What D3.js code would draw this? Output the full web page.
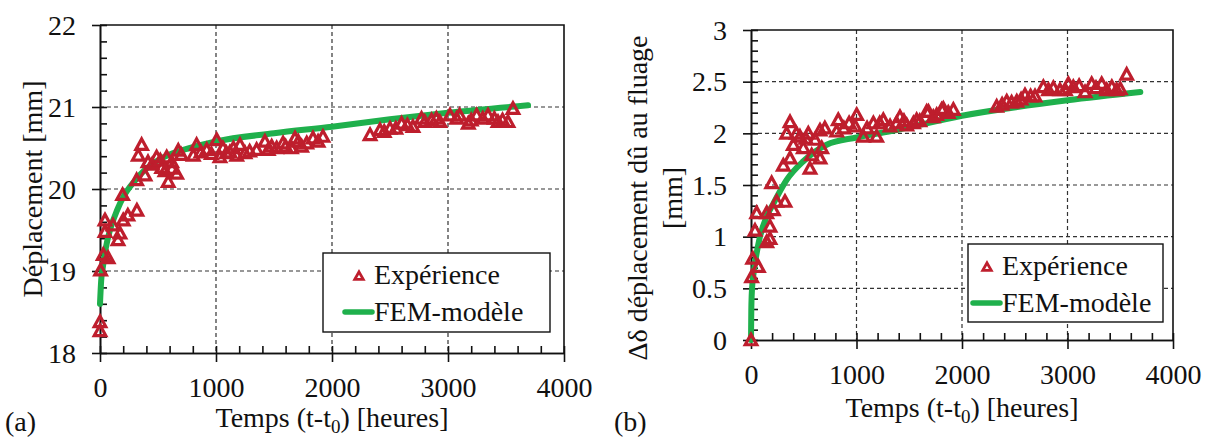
<!DOCTYPE html>
<html><head><meta charset="utf-8">
<script src="https://cdn.jsdelivr.net/npm/d3@7"></script>
<style>
body{margin:0;background:#fff}
svg{display:block}
text{font-family:"Liberation Serif","Times New Roman",serif;fill:#111}
</style>
</head><body>
<svg id="c" width="1209" height="440"></svg>
<script>
// ---------- data ----------
const xTickValues = [0, 1000, 2000, 3000, 4000];
const yTickValuesA = [18, 19, 20, 21, 22];
const yTickValuesB = [0, 0.5, 1, 1.5, 2, 2.5, 3];
const legendLabels = ["Expérience", "FEM-modèle"];

// (a) experiment: time [h], displacement [mm]
const expTimeA = [0,0,5,28,70,43,43,112,155,172,200,240,318,195,316,388,359,330,414,488,532,588,661,675,575,618,450,520,560,620,700,
  833,804,870,920,960,1006,1034,1060,1090,1120,1150,1207,1178,1250,1290,1350,1422,1450,1480,1523,1578,1600,1650,1681,1710,1738,1782,1836,1880,1922,
  2328,2414,2450,2500,2550,2600,2650,2698,2772,2800,2858,2900,2930,3017,3075,3100,3175,3200,3247,3300,3345,3400,3431,3470,3517,3560];
const expDispA = [18.38,18.27,19.01,19.2,19.16,19.48,19.62,19.56,19.38,19.46,19.62,19.68,19.74,19.93,20.11,20.17,20.54,20.41,20.33,20.39,20.26,20.09,20.19,20.47,20.39,20.33,20.30,20.35,20.22,20.25,20.42,
  20.54,20.41,20.45,20.48,20.43,20.60,20.39,20.50,20.44,20.45,20.50,20.54,20.41,20.44,20.46,20.48,20.58,20.48,20.52,20.50,20.56,20.52,20.50,20.62,20.58,20.52,20.56,20.62,20.58,20.64,
  20.66,20.72,20.70,20.74,20.74,20.80,20.78,20.76,20.86,20.82,20.84,20.86,20.82,20.90,20.86,20.90,20.80,20.84,20.90,20.86,20.90,20.86,20.82,20.84,20.82,20.98];
// (a) model
const modelTimeA = [0,10,25,50,86,150,200,300,400,500,600,776,1000,1500,2000,2500,3000,3690];
const modelDispA = [18.6,18.88,19.05,19.28,19.5,19.75,19.9,20.1,20.25,20.35,20.42,20.5,20.58,20.68,20.76,20.85,20.93,21.02];

// (b) experiment: time [h], creep displacement [mm]
const expTimeB = [0,6,16,70,38,54,149,180,180,149,212,243,322,196,306,370,559,370,338,401,464,496,543,575,654,670,654,607,430,520,700,
  827,812,880,930,1002,986,1065,1100,1160,1191,1220,1254,1318,1380,1412,1450,1476,1540,1570,1600,1665,1682,1728,1760,1807,1823,1870,1918,
  2329,2380,2424,2470,2519,2560,2597,2650,2692,2771,2820,2866,2929,2980,3008,3055,3110,3166,3229,3270,3324,3372,3420,3466,3500,3561];
const expDeltaB = [0.0,0.61,0.79,0.71,1.06,1.23,0.95,0.98,1.10,1.23,1.26,1.34,1.34,1.52,1.69,1.76,1.66,2.11,2.00,1.89,1.97,1.86,2.00,1.79,2.03,1.86,1.76,1.94,2.00,1.95,2.05,
  2.13,2.02,2.05,2.10,2.18,2.07,1.97,2.05,2.10,1.97,2.10,2.13,2.07,2.10,2.16,2.12,2.08,2.10,2.13,2.12,2.21,2.21,2.16,2.18,2.23,2.24,2.20,2.23,
  2.26,2.28,2.31,2.30,2.31,2.33,2.37,2.36,2.36,2.45,2.42,2.44,2.42,2.42,2.48,2.45,2.46,2.40,2.48,2.44,2.48,2.42,2.45,2.42,2.43,2.57];
// (b) model
const modelTimeB = [0,3,10,25,50,85,150,212,338,496,717,1000,1318,2000,3000,3690];
const modelDeltaB = [0,0.3,0.5,0.65,0.82,1.0,1.2,1.32,1.55,1.73,1.89,1.96,2.02,2.17,2.32,2.40];

// ---------- drawing ----------
const RED = "#be1e2d", GREEN = "#1fb04c", INK = "#111";
const svg = d3.select("#c");
const tri = (w, h) => `M0,${-h*0.55}L${w/2},${h*0.45}L${-w/2},${h*0.45}Z`;

function panel(o) {
  const g = svg.append("g");
  const x = d3.scaleLinear().domain([0, 4000]).range([o.x0, o.x1]);
  const y = d3.scaleLinear().domain(o.yDomain).range([o.y1, o.y0]);

  // grid
  g.append("g").selectAll("line").data(xTickValues.slice(1, -1)).join("line")
    .attr("x1", d => x(d)).attr("x2", d => x(d)).attr("y1", o.y0).attr("y2", o.y1)
    .attr("stroke", "#333").attr("stroke-width", 1.2).attr("stroke-dasharray", "4,3");
  g.append("g").selectAll("line").data(o.yTicks.slice(1, -1)).join("line")
    .attr("y1", d => y(d)).attr("y2", d => y(d)).attr("x1", o.x0).attr("x2", o.x1)
    .attr("stroke", "#333").attr("stroke-width", 1.2).attr("stroke-dasharray", "4,3");

  // frame top/right
  g.append("path").attr("d", `M${o.x0},${o.y0}H${o.x1}V${o.y1}`)
    .attr("fill", "none").attr("stroke", INK).attr("stroke-width", 1.6);

  // x axis
  const minorX = d3.range(0, 4001, 200);
  const xIn = g.append("g").attr("transform", `translate(0,${o.y1})`)
    .call(d3.axisBottom(x).tickValues(minorX).tickSize(-7).tickSizeOuter(0).tickFormat(""));
  const xOut = g.append("g").attr("transform", `translate(0,${o.y1})`)
    .call(d3.axisBottom(x).tickValues(xTickValues).tickSize(9).tickSizeOuter(0).tickFormat(d3.format("d")));
  xOut.selectAll("text").attr("y", 44).attr("dy", null).style("font-size", "28px").attr("fill", INK);
  // y axis
  const yIn = g.append("g").attr("transform", `translate(${o.x0},0)`)
    .call(d3.axisLeft(y).tickValues(o.yMinor).tickSize(-7).tickSizeOuter(0).tickFormat(""));
  const yOut = g.append("g").attr("transform", `translate(${o.x0},0)`)
    .call(d3.axisLeft(y).tickValues(o.yTicks).tickSize(8).tickSizeOuter(0).tickFormat(o.yFormat));
  yOut.selectAll("text").attr("x", -24).attr("dy", "0.33em").style("font-size", "28px").attr("fill", INK);
  [xIn, xOut, yIn, yOut].forEach(a => {
    a.selectAll("path,line").attr("stroke", INK).attr("stroke-width", 1.6);
    a.attr("font-family", null);
  });

  // model curve
  const line = d3.line().x(d => x(d[0])).y(d => y(d[1])).curve(d3.curveMonotoneX);
  g.append("path").datum(o.mt.map((t, i) => [t, o.mv[i]])).attr("d", line)
    .attr("fill", "none").attr("stroke", GREEN).attr("stroke-width", 6).attr("stroke-linecap", "round");

  // experiment points
  g.append("g").selectAll("path").data(o.et.map((t, i) => [t, o.ev[i]])).join("path")
    .attr("transform", d => `translate(${x(d[0])},${y(d[1])})`)
    .attr("d", tri(11.5, 10.5)).attr("fill", "none").attr("stroke", RED).attr("stroke-width", 3.2)
    .attr("stroke-linejoin", "miter");

  // legend
  const L = o.legend;
  g.append("rect").attr("x", L.x).attr("y", L.y).attr("width", L.w).attr("height", L.h)
    .attr("fill", "#fff").attr("stroke", INK).attr("stroke-width", 1.4);
  g.append("path").attr("transform", `translate(${L.x + L.mx},${L.y + 23})`).attr("d", tri(8.5, 7.5))
    .attr("fill", "none").attr("stroke", RED).attr("stroke-width", 2.8);
  g.append("line").attr("x1", L.x + L.mx - 14).attr("x2", L.x + L.mx + 13)
    .attr("y1", L.y + 59).attr("y2", L.y + 59)
    .attr("stroke", GREEN).attr("stroke-width", 5.5).attr("stroke-linecap", "round");
  g.selectAll("text.leg").data(legendLabels).join("text").attr("class", "leg")
    .attr("x", L.x + L.tx).attr("y", (d, i) => L.y + 31 + i * 37)
    .style("font-size", "28px").text(d => d);

  // x title
  const xt = g.append("text").attr("x", (o.x0 + o.x1) / 2).attr("y", o.xTitleY)
    .attr("text-anchor", "middle").style("font-size", "28px");
  xt.append("tspan").text("Temps (t-t");
  xt.append("tspan").text("0").style("font-size", "19px").attr("dy", 6);
  xt.append("tspan").text(") [heures]").attr("dy", -6);

  // panel tag
  g.append("text").attr("x", o.tagX).attr("y", 431).style("font-size", "28px").text(o.tag);
  return { x, y };
}

panel({
  x0: 100, x1: 564, y0: 25, y1: 353, yDomain: [18, 22],
  yTicks: yTickValuesA, yMinor: d3.range(18, 22.001, 0.2), yFormat: d3.format("d"),
  et: expTimeA, ev: expDispA, mt: modelTimeA, mv: modelDispA,
  legend: { x: 323, y: 253, w: 227, h: 79, mx: 36, tx: 51 },
  xTitleY: 427, tag: "(a)", tagX: 5
});
svg.append("text").attr("transform", "translate(42,189) rotate(-90)")
  .attr("text-anchor", "middle").style("font-size", "28px").text("Déplacement  [mm]");

panel({
  x0: 751, x1: 1173, y0: 30, y1: 340, yDomain: [0, 3],
  yTicks: yTickValuesB, yMinor: d3.range(0, 3.001, 0.1), yFormat: d3.format(""),
  et: expTimeB, ev: expDeltaB, mt: modelTimeB, mv: modelDeltaB,
  legend: { x: 968, y: 244, w: 195, h: 78, mx: 19, tx: 34 },
  xTitleY: 417, tag: "(b)", tagX: 614
});
svg.append("text").attr("transform", "translate(647,198) rotate(-90)")
  .attr("text-anchor", "middle").style("font-size", "28px").text("Δδ déplacement  dû au fluage");
svg.append("text").attr("transform", "translate(682,198) rotate(-90)")
  .attr("text-anchor", "middle").style("font-size", "28px").text("[mm]");
</script>
</body></html>
